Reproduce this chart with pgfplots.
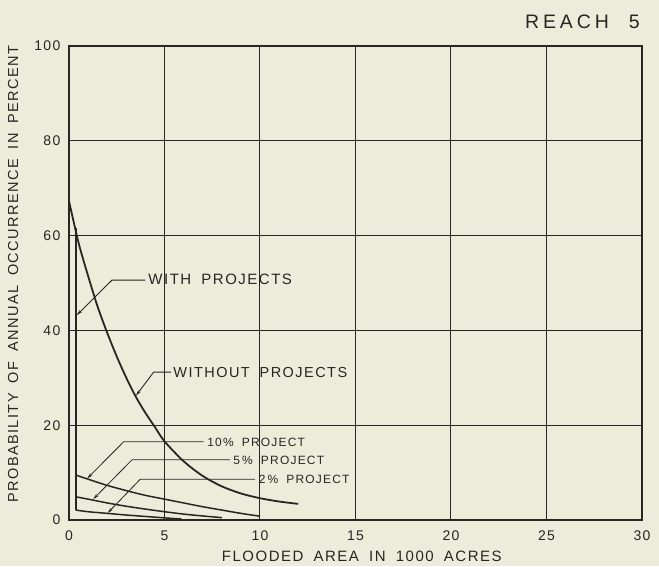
\documentclass[border=0pt]{standalone}
\usepackage{fontspec}
\setmainfont{Liberation Sans}
\newfontfamily\lbl[LetterSpace=10,WordSpace=1.8]{Liberation Sans}
\newfontfamily\lblw[LetterSpace=20,WordSpace=1.8]{Liberation Sans}
\usepackage{pgfplots}
\pgfplotsset{compat=1.18}
\usetikzlibrary{arrows.meta}
\definecolor{paper}{RGB}{237,236,219}
\definecolor{ink}{RGB}{38,38,34}
\newcommand{\fs}[1]{\fontsize{#1}{#1}\lbl}

\pgfplotstableread{
x y
0 67.3
0.5 58.5
1 51.5
1.5 45
2 39.5
2.5 34.5
3 30.0
3.5 26.0
4 22.6
4.5 19.6
5 16.6
6 12.4
7 9.3
8 7.1
9 5.6
10 4.6
11 3.9
12 3.4
}\without

\pgfplotstableread{
x y
0.35 61.6
0.35 2.1
}\withproj

\pgfplotstableread{
x y
0.35 9.5
1 8.6
2 7.3
3 6.2
4 5.2
5 4.4
6 3.6
7 2.8
8 2.1
9 1.4
10 0.8
}\tenpct

\pgfplotstableread{
x y
0.35 4.9
1 4.4
2 3.6
3 2.9
4 2.3
5 1.75
6 1.25
7 0.85
8 0.5
}\fivepct

\pgfplotstableread{
x y
0.35 2.1
1 1.75
2 1.4
3 1.05
4 0.75
5 0.45
5.9 0.2
}\twopct

\begin{document}
\begin{tikzpicture}
\useasboundingbox (-69pt,-46pt) rectangle (590pt,520pt);
\fill[paper] (-69pt,-46pt) rectangle (590pt,520pt);
\begin{axis}[
  scale only axis, width=573pt, height=474pt,
  xmin=0, xmax=30, ymin=0, ymax=100,
  xtick={0,5,...,30}, ytick={0,20,...,100},
  grid=major,
  major grid style={draw=ink, line width=1.0pt},
  axis line style={draw=ink, line width=1.3pt},
  tick style={draw=none},
  /pgf/number format/assume math mode=true,
  tick label style={font=\fs{14}, text=ink},
  xticklabel style={yshift=-7pt},
  yticklabel style={xshift=-5pt},
  xlabel={FLOODED AREA IN 1000 ACRES},
  ylabel={PROBABILITY OF ANNUAL OCCURRENCE IN PERCENT},
  xlabel style={at={(axis description cs:0.511,-0.076)}, anchor=center, font=\fs{15}, text=ink},
  ylabel style={at={(axis description cs:-0.0977,0.519)}, anchor=center, font=\fs{14.5}, text=ink},
  clip mode=individual,
]
\addplot[ink, line width=1.8pt, smooth, tension=0.5] table {\without};
\addplot[ink, line width=1.8pt] table {\withproj};
\addplot[ink, line width=1.5pt, smooth, tension=0.5] table {\tenpct};
\addplot[ink, line width=1.5pt, smooth, tension=0.5] table {\fivepct};
\addplot[ink, line width=1.5pt, smooth, tension=0.5] table {\twopct};

% leaders
\draw[ink, line width=0.9pt, -{Stealth[length=6pt,width=3pt]}] (axis cs:4.0,50.6) -- (axis cs:2.25,50.6) -- (axis cs:0.4,43.2);
\node[anchor=base west, font=\fs{15}, text=ink, inner sep=0pt] at (axis cs:4.15,49.6) {WITH PROJECTS};

\draw[ink, line width=0.9pt, -{Stealth[length=6pt,width=3pt]}] (axis cs:5.35,31.2) -- (axis cs:4.43,31.2) -- (axis cs:3.5,26.2);
\node[anchor=base west, font=\fs{14.5}, text=ink, inner sep=0pt] at (axis cs:5.46,30.1) {WITHOUT PROJECTS};

\draw[ink, line width=0.8pt, -{Stealth[length=6pt,width=3pt]}] (axis cs:7.05,16.5) -- (axis cs:2.86,16.5) -- (axis cs:0.95,8.75);
\node[anchor=base west, font=\fs{12}, text=ink, inner sep=0pt] at (axis cs:7.23,15.6) {10\% PROJECT};

\draw[ink, line width=0.8pt, -{Stealth[length=6pt,width=3pt]}] (axis cs:8.44,12.7) -- (axis cs:3.3,12.7) -- (axis cs:1.27,4.4);
\node[anchor=base west, font=\fs{12}, text=ink, inner sep=0pt] at (axis cs:8.6,11.8) {5\,\% PROJECT};

\draw[ink, line width=0.8pt, -{Stealth[length=6pt,width=3pt]}] (axis cs:9.75,8.6) -- (axis cs:3.73,8.6) -- (axis cs:2.02,1.45);
\node[anchor=base west, font=\fs{12}, text=ink, inner sep=0pt] at (axis cs:9.93,7.7) {2\,\% PROJECT};

\node[anchor=base east, font={\fontsize{19.5}{20}\lblw}, text=ink, inner sep=0pt] at (rel axis cs:1,1) [xshift=-2pt, yshift=18pt] {REACH\hspace{20pt}5};
\end{axis}
\end{tikzpicture}
\end{document}
